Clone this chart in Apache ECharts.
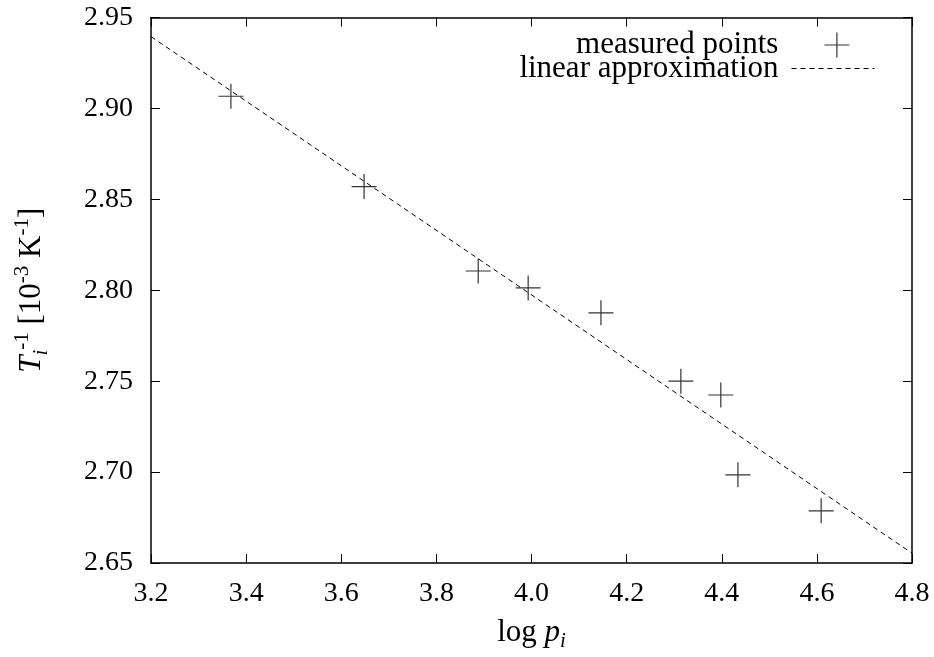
<!DOCTYPE html>
<html>
<head>
<meta charset="utf-8">
<script src="https://cdn.jsdelivr.net/npm/echarts@6/dist/echarts.min.js"></script>
<style>html,body{margin:0;padding:0;background:#fff}#c{width:934px;height:657px}</style>
</head>
<body>
<div id="c"></div>
<script>
// measured data
var logP = [3.368, 3.648, 3.888, 3.993, 4.146, 4.314, 4.398, 4.434, 4.609];
var invT = [2.9067, 2.857, 2.8106, 2.8013, 2.7876, 2.750, 2.7424, 2.6985, 2.6787];
// linear approximation endpoints
var fitX = [3.2, 4.8];
var fitY = [2.9395, 2.6554];
// axis ranges
var xMin = 3.2, xMax = 4.8, xStep = 0.2;
var yMin = 2.65, yMax = 2.95, yStep = 0.05;

var FONT = 'Liberation Serif';
var FS = 28;   // tick labels
var FT = 31;   // titles / legend
var FSS = 21;  // sub/superscripts
var crossPath = 'path://M0,-1L0,1M-1,0L1,0';
var dash = [5, 4];

var points = logP.map(function (x, i) { return [x, invT[i]]; });
var fitLine = fitX.map(function (x, i) { return [x, fitY[i]]; });

var axisLine = { show: true, lineStyle: { color: '#000', width: 1.5 } };
var tick = { show: true, inside: true, length: 9, lineStyle: { color: '#000', width: 1 } };

var chart = echarts.init(document.getElementById('c'), null, { renderer: 'canvas' });
chart.setOption({
  animation: false,
  backgroundColor: '#fff',
  grid: { left: 151, right: 22, top: 17.5, bottom: 90, containLabel: false },
  legend: [
    {
      data: [{ name: 'measured points', icon: crossPath,
               itemStyle: { color: '#000', borderColor: '#000', borderWidth: 1.2 } }],
      orient: 'vertical', align: 'right', right: 84, top: 29.5, padding: 0,
      itemWidth: 25, itemHeight: 25,
      textStyle: { fontFamily: FONT, fontSize: FT, color: '#000', padding: [0, 41, 0, 0] },
      selectedMode: false
    },
    {
      data: [{ name: 'linear approximation',
               itemStyle: { color: 'rgba(0,0,0,0)', borderColor: 'rgba(0,0,0,0)', borderWidth: 0, opacity: 0 },
               lineStyle: { color: '#000', width: 1, type: dash } }],
      orient: 'vertical', align: 'right', right: 59, top: 53, padding: 0,
      itemWidth: 83, itemHeight: 36,
      textStyle: { fontFamily: FONT, fontSize: FT, color: '#000', padding: [0, 8, 0, 0] },
      selectedMode: false
    }
  ],
  xAxis: [
    {
      type: 'value', min: xMin, max: xMax, interval: xStep, position: 'bottom',
      axisLine: axisLine, axisTick: tick, splitLine: { show: false },
      axisLabel: { fontFamily: FONT, fontSize: FS, color: '#000', margin: 17,
                   formatter: function (v) { return v.toFixed(1); } },
      name: '{n|log }{it|p}{sub|i}', nameLocation: 'middle', nameGap: 51,
      nameTextStyle: {
        fontFamily: FONT, fontSize: FT, color: '#000',
        rich: {
          n: { fontFamily: FONT, fontSize: FT, color: '#000', lineHeight: 38 },
          it: { fontFamily: FONT, fontSize: FT, fontStyle: 'italic', color: '#000', lineHeight: 38 },
          sub: { fontFamily: FONT, fontSize: FSS, fontStyle: 'italic', color: '#000', lineHeight: 21, verticalAlign: 'bottom' }
        }
      }
    },
    {
      type: 'value', min: xMin, max: xMax, interval: xStep, position: 'top',
      axisLine: axisLine, axisTick: tick, splitLine: { show: false },
      axisLabel: { show: false }
    }
  ],
  yAxis: [
    {
      type: 'value', min: yMin, max: yMax, interval: yStep, position: 'left',
      axisLine: axisLine, axisTick: tick, splitLine: { show: false },
      axisLabel: { fontFamily: FONT, fontSize: FS, color: '#000', margin: 18,
                   formatter: function (v) { return v.toFixed(2); } },
      name: '{it|T}{sub|i}{sup|-1}{n| [10}{sup|-3}{n| K}{sup|-1}{n|]}',
      nameLocation: 'middle', nameRotate: 90, nameGap: 99,
      nameTextStyle: {
        fontFamily: FONT, fontSize: FT, color: '#000',
        rich: {
          n: { fontFamily: FONT, fontSize: FT, color: '#000', lineHeight: 40 },
          it: { fontFamily: FONT, fontSize: FT, fontStyle: 'italic', color: '#000', lineHeight: 40 },
          sub: { fontFamily: FONT, fontSize: FSS, fontStyle: 'italic', color: '#000', lineHeight: 21, verticalAlign: 'bottom' },
          sup: { fontFamily: FONT, fontSize: FSS, color: '#000', lineHeight: 21, verticalAlign: 'top' }
        }
      }
    },
    {
      type: 'value', min: yMin, max: yMax, interval: yStep, position: 'right',
      axisLine: axisLine, axisTick: tick, splitLine: { show: false },
      axisLabel: { show: false }
    }
  ],
  series: [
    {
      name: 'measured points', type: 'scatter', xAxisIndex: 0, yAxisIndex: 0,
      data: points, symbol: crossPath, symbolSize: 25,
      itemStyle: { color: '#000', borderColor: '#000', borderWidth: 1.2 },
      emphasis: { disabled: true }, z: 3
    },
    {
      name: 'linear approximation', type: 'line', xAxisIndex: 0, yAxisIndex: 0,
      data: fitLine, symbol: 'none', showSymbol: false,
      lineStyle: { color: '#000', width: 1, type: dash },
      itemStyle: { color: '#000' },
      emphasis: { disabled: true }, z: 2
    }
  ]
});
</script>
</body>
</html>
